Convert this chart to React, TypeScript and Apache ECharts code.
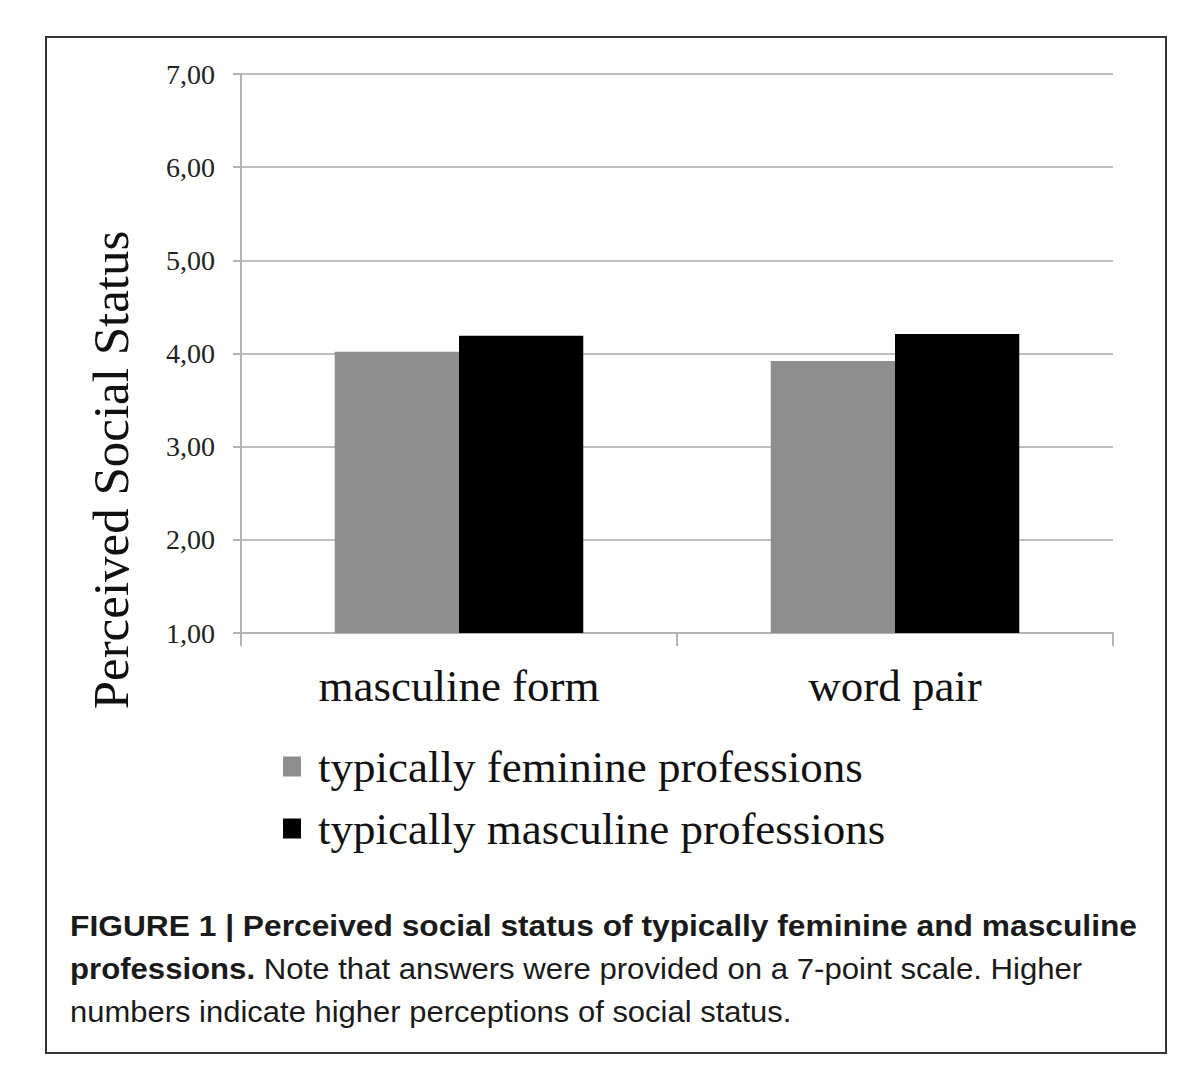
import React, { useEffect, useRef } from "react";
import * as echarts from "echarts";

const categories = ["masculine form", "word pair"];
const seriesNames = ["typically feminine professions", "typically masculine professions"];
const feminineValues = [4.02, 3.92];
const masculineValues = [4.19, 4.21];
const yTicks = { min: 1, max: 7, interval: 1 };
const yAxisTitle = "Perceived Social Status";
const captionLine1 = "FIGURE 1 | Perceived social status of typically feminine and masculine";
const captionLine2Bold = "professions.";
const captionLine2Rest = "Note that answers were provided on a 7-point scale. Higher";
const captionLine3 = "numbers indicate higher perceptions of social status.";

const SERIF = '"Liberation Serif", "Times New Roman", serif';
const SANS = '"Liberation Sans", Arial, Helvetica, sans-serif';

export default function App() {
  const ref = useRef<HTMLDivElement>(null);
  useEffect(() => {
    if (!ref.current) return;
    const chart = echarts.init(ref.current, null, { renderer: "svg" });
    chart.setOption({
      animation: false,
      backgroundColor: "#ffffff",
      grid: { left: 241, right: 87, top: 74, bottom: 1091 - 633, containLabel: false },
      xAxis: {
        type: "category",
        data: categories,
        boundaryGap: true,
        axisLine: { show: true, lineStyle: { color: "#b3b3b3", width: 2 } },
        axisTick: { show: true, length: 13, alignWithLabel: false, lineStyle: { color: "#b3b3b3", width: 2 } },
        axisLabel: { margin: 30, fontFamily: SERIF, fontSize: 45, color: "#111" },
        splitLine: { show: false },
      },
      yAxis: {
        type: "value",
        min: yTicks.min,
        max: yTicks.max,
        interval: yTicks.interval,
        axisLine: { show: true, lineStyle: { color: "#b3b3b3", width: 2 } },
        axisTick: { show: true, length: 8, inside: false, lineStyle: { color: "#b3b3b3", width: 2 } },
        axisLabel: {
          margin: 26,
          fontFamily: SERIF,
          fontSize: 28,
          color: "#222",
          formatter: (v: number) => v.toFixed(2).replace(".", ","),
        },
        splitLine: { show: true, lineStyle: { color: "#bdbdbd", width: 2 } },
      },
      legend: {
        orient: "vertical",
        left: 283,
        top: 744,
        padding: 0,
        itemWidth: 18,
        itemHeight: 20,
        itemGap: 17,
        icon: "rect",
        data: seriesNames,
        textStyle: { fontFamily: SERIF, fontSize: 45, color: "#111", padding: [0, 0, 0, 12] },
      },
      series: [
        {
          name: seriesNames[0],
          type: "bar",
          data: feminineValues,
          barGap: "0%",
          barCategoryGap: "43%",
          itemStyle: { color: "#8e8e8e" },
        },
        {
          name: seriesNames[1],
          type: "bar",
          data: masculineValues,
          barGap: "0%",
          barCategoryGap: "43%",
          itemStyle: { color: "#000000" },
        },
      ],
      graphic: [
        {
          type: "rect",
          shape: { x: 46, y: 37, width: 1120, height: 1016 },
          style: { fill: "none", stroke: "#333", lineWidth: 2 },
          silent: true,
        },
        {
          type: "text",
          x: 111,
          y: 470,
          rotation: Math.PI / 2,
          style: {
            text: yAxisTitle,
            font: `51px ${SERIF}`,
            fill: "#111",
            textAlign: "center",
            textVerticalAlign: "middle",
          },
        },
        {
          type: "text",
          x: 70,
          y: 926,
          scaleX: 1.058,
          style: {
            text: captionLine1,
            font: `bold 30px ${SANS}`,
            fill: "#1a1a1a",
            textAlign: "left",
            textVerticalAlign: "middle",
          },
        },
        {
          type: "text",
          x: 70,
          y: 968,
          scaleX: 1.038,
          style: {
            text: `{b|${captionLine2Bold}} {r|${captionLine2Rest}}`,
            textAlign: "left",
            textVerticalAlign: "middle",
            rich: {
              b: { font: `bold 30px ${SANS}`, fill: "#1a1a1a" },
              r: { font: `30px ${SANS}`, fill: "#1a1a1a" },
            },
            font: `30px ${SANS}`,
            fill: "#1a1a1a",
          },
        },
        {
          type: "text",
          x: 70,
          y: 1011,
          scaleX: 1.033,
          style: {
            text: captionLine3,
            font: `30px ${SANS}`,
            fill: "#1a1a1a",
            textAlign: "left",
            textVerticalAlign: "middle",
          },
        },
      ],
    });
    return () => chart.dispose();
  }, []);
  return (
    <div
      ref={ref}
      style={{ position: "fixed", left: 0, top: 0, width: 1200, height: 1091, background: "#fff" }}
    />
  );
}
